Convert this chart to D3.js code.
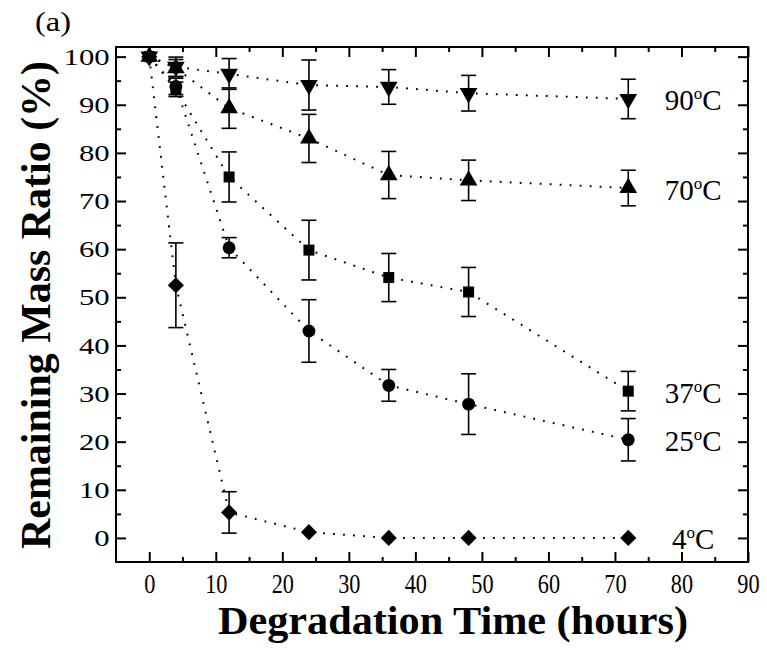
<!DOCTYPE html>
<html>
<head>
<meta charset="utf-8">
<script src="https://cdn.jsdelivr.net/npm/d3@7"></script>
<style>
  html, body { margin: 0; padding: 0; background: #ffffff; }
  svg { display: block; }
</style>
</head>
<body>
<script>
// ---------------- data ----------------
const hours = [0, 4, 12, 24, 36, 48, 72];
const mass4  = [100, 52.5, 5.3, 1.2, 0, 0, 0];
const err4   = [0, 8.8, 4.3, 0, 0, 0, 0];
const mass25 = [100, 93.8, 60.3, 43.0, 31.7, 27.8, 20.4];
const err25  = [0, 1.7, 2.1, 6.5, 3.3, 6.3, 4.4];
const mass37 = [100, 93.2, 75.0, 59.8, 54.1, 51.1, 30.5];
const err37  = [0, 1.5, 5.2, 6.2, 5.0, 5.1, 4.1];
const mass70 = [100, 97.6, 89.3, 83.0, 75.4, 74.3, 72.7];
const err70  = [0, 1.8, 4.2, 5.0, 4.9, 4.2, 3.7];
const mass90 = [100, 97.9, 96.4, 94.1, 93.7, 92.4, 91.2];
const err90  = [0, 2.0, 3.2, 5.2, 3.6, 3.7, 4.1];
const seriesLabels = ["4", "25", "37", "70", "90"];
const xTicks = [0, 10, 20, 30, 40, 50, 60, 70, 80, 90];
const yTicks = [0, 10, 20, 30, 40, 50, 60, 70, 80, 90, 100];
const xTitle = "Degradation Time (hours)";
const yTitle = "Remaining Mass Ratio (%)";
const panelLabel = "(a)";

const series = [
  { name: seriesLabels[0], vals: mass4,  errs: err4,  shape: "diamond" },
  { name: seriesLabels[1], vals: mass25, errs: err25, shape: "circle" },
  { name: seriesLabels[2], vals: mass37, errs: err37, shape: "square" },
  { name: seriesLabels[3], vals: mass70, errs: err70, shape: "triUp" },
  { name: seriesLabels[4], vals: mass90, errs: err90, shape: "triDown" }
];

// ---------------- layout ----------------
const W = 767, H = 650;
const L = 116, R = 748, T = 47, B = 562;
const x = d3.scaleLinear().domain([-5, 90]).range([L, R]);
const y = d3.scaleLinear().domain([-5, 102]).range([B, T]);
const serif = "'Liberation Serif', 'Times New Roman', serif";

const svg = d3.select("body").append("svg")
  .attr("width", W).attr("height", H)
  .attr("viewBox", `0 0 ${W} ${H}`);

const xMinor = d3.range(5, 90, 10);
const yMinor = d3.range(5, 100, 10);

function styleAxis(g) {
  g.select(".domain").remove();
  g.selectAll(".tick line").attr("stroke", "#000").attr("stroke-width", 2);
}

// bottom axis
svg.append("g").attr("transform", `translate(0,${B})`)
  .call(d3.axisBottom(x).tickValues(xTicks).tickSize(-10).tickPadding(12))
  .call(styleAxis)
  .call(g => g.selectAll(".tick text")
    .attr("font-family", serif).attr("font-size", 26.5).attr("fill", "#000")
    .attr("transform", "scale(0.84,1)"));
svg.append("g").attr("transform", `translate(0,${B})`)
  .call(d3.axisBottom(x).tickValues(xMinor).tickSize(-5).tickFormat(""))
  .call(styleAxis);
// top axis
svg.append("g").attr("transform", `translate(0,${T})`)
  .call(d3.axisTop(x).tickValues(xTicks).tickSize(-10).tickFormat(""))
  .call(styleAxis);
svg.append("g").attr("transform", `translate(0,${T})`)
  .call(d3.axisTop(x).tickValues(xMinor).tickSize(-5).tickFormat(""))
  .call(styleAxis);
// left axis
svg.append("g").attr("transform", `translate(${L},0)`)
  .call(d3.axisLeft(y).tickValues(yTicks).tickSize(-10).tickPadding(5))
  .call(styleAxis)
  .call(g => g.selectAll(".tick text")
    .attr("font-family", serif).attr("font-size", 24).attr("fill", "#000")
    .attr("transform", "scale(1.28,1)"));
svg.append("g").attr("transform", `translate(${L},0)`)
  .call(d3.axisLeft(y).tickValues(yMinor).tickSize(-5).tickFormat(""))
  .call(styleAxis);
// right axis
svg.append("g").attr("transform", `translate(${R},0)`)
  .call(d3.axisRight(y).tickValues(yTicks).tickSize(-10).tickFormat(""))
  .call(styleAxis);
svg.append("g").attr("transform", `translate(${R},0)`)
  .call(d3.axisRight(y).tickValues(yMinor).tickSize(-5).tickFormat(""))
  .call(styleAxis);

// frame
svg.append("rect").attr("x", L).attr("y", T)
  .attr("width", R - L).attr("height", B - T)
  .attr("fill", "none").attr("stroke", "#000").attr("stroke-width", 2);

// ---------------- dotted lines ----------------
const line = d3.line().x(d => x(d[0])).y(d => y(d[1]));
series.forEach(s => {
  svg.append("path")
    .datum(hours.map((h, i) => [h, s.vals[i]]))
    .attr("d", line)
    .attr("fill", "none").attr("stroke", "#000")
    .attr("stroke-width", 2).attr("stroke-dasharray", "1.8,8.2");
});

// ---------------- error bars ----------------
const capW = 7.5;
series.forEach(s => {
  const g = svg.append("g");
  hours.forEach((h, i) => {
    const e = s.errs[i];
    if (!e) return;
    const cx = x(h), y1 = y(s.vals[i] + e), y2 = y(s.vals[i] - e);
    g.append("line").attr("x1", cx).attr("x2", cx).attr("y1", y1).attr("y2", y2)
      .attr("stroke", "#000").attr("stroke-width", 1.6);
    [y1, y2].forEach(yy => g.append("line")
      .attr("x1", cx - capW).attr("x2", cx + capW).attr("y1", yy).attr("y2", yy)
      .attr("stroke", "#000").attr("stroke-width", 1.6));
  });
});

// ---------------- markers ----------------
const symbols = {
  diamond: { type: d3.symbolSquare, size: 130, rot: 45 },
  circle:  { type: d3.symbolCircle, size: 130, rot: 0 },
  square:  { type: d3.symbolSquare, size: 121, rot: 0 },
  triUp:   { type: d3.symbolTriangle, size: 135, rot: 0 },
  triDown: { type: d3.symbolTriangle, size: 135, rot: 180 }
};
series.forEach(s => {
  const sym = symbols[s.shape];
  const p = d3.symbol().type(sym.type).size(sym.size)();
  hours.forEach((h, i) => {
    svg.append("path").attr("d", p)
      .attr("transform", `translate(${x(h)},${y(s.vals[i])}) rotate(${sym.rot})`)
      .attr("fill", "#000");
  });
});

// ---------------- series labels ----------------
series.forEach(s => {
  const last = s.vals[s.vals.length - 1];
  const t = svg.append("text")
    .attr("x", x(72) + 65).attr("y", y(last) + 11.5)
    .attr("text-anchor", "middle")
    .attr("font-family", serif).attr("font-size", 29).attr("fill", "#000");
  t.append("tspan").text(s.name);
  t.append("tspan").attr("font-size", 17).attr("dy", -11).text("o");
  t.append("tspan").attr("dy", 11).text("C");
});

// ---------------- titles ----------------
svg.append("text")
  .attr("x", 453).attr("y", 634)
  .attr("text-anchor", "middle")
  .attr("font-family", serif).attr("font-weight", "bold")
  .attr("font-size", 39).attr("fill", "#000")
  .attr("textLength", 470).attr("lengthAdjust", "spacingAndGlyphs")
  .text(xTitle);

svg.append("text")
  .attr("transform", `translate(50,305) rotate(-90)`)
  .attr("text-anchor", "middle")
  .attr("font-family", serif).attr("font-weight", "bold")
  .attr("font-size", 42).attr("fill", "#000")
  .attr("textLength", 488).attr("lengthAdjust", "spacingAndGlyphs")
  .text(yTitle);

svg.append("text")
  .attr("x", 35).attr("y", 31)
  .attr("font-family", serif).attr("font-size", 28).attr("fill", "#000")
  .attr("textLength", 36).attr("lengthAdjust", "spacingAndGlyphs")
  .text(panelLabel);
</script>
</body>
</html>
